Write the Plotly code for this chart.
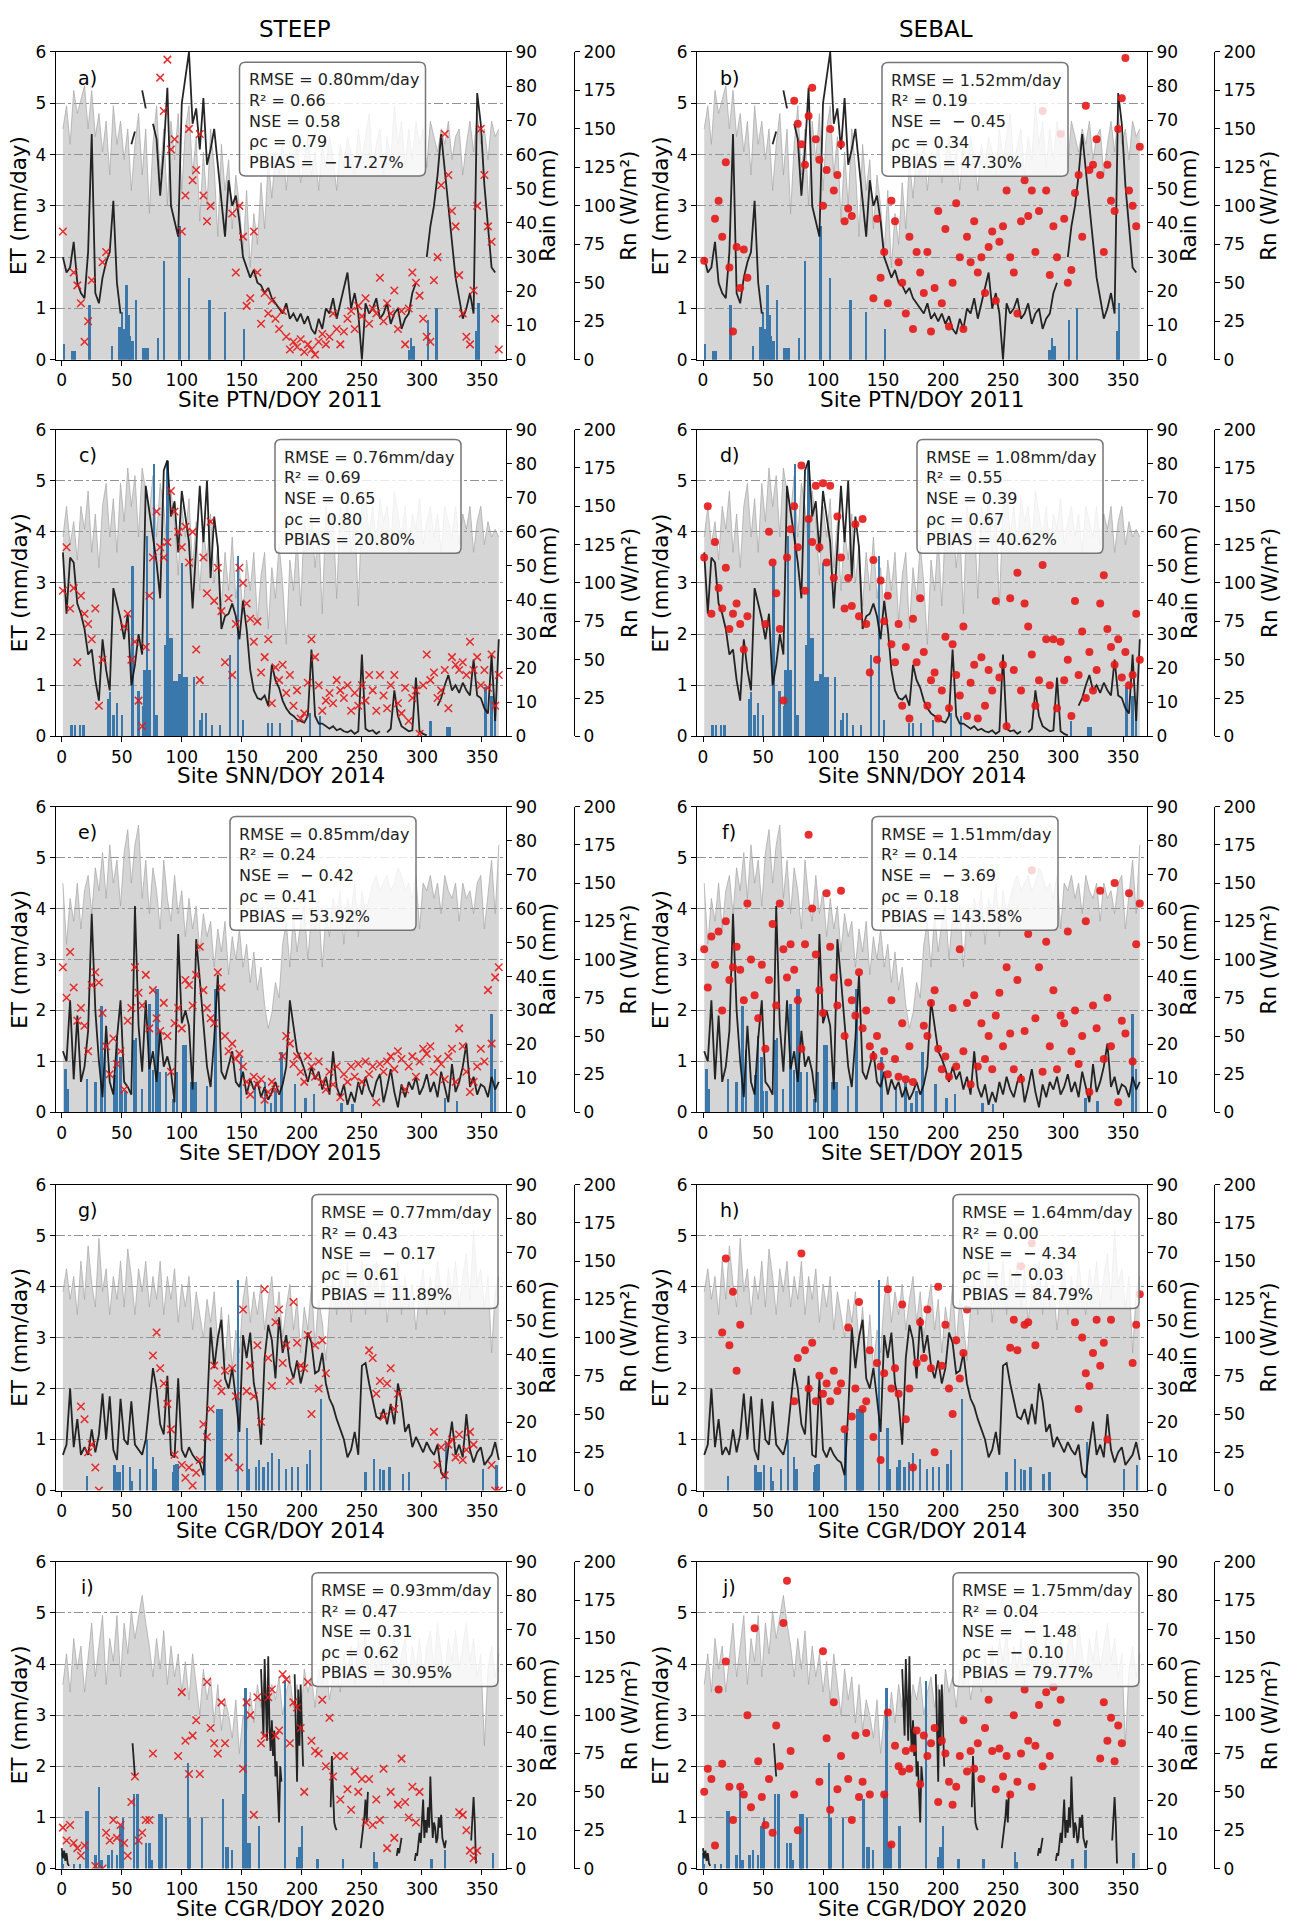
import plotly.graph_objects as go

W, H = 1290, 1931
DAYS = list(range(1, 365, 3))  # sampled day of year, 122 values
N = None

# ---------------- Site PTN / 2011 ----------------
PTN_ET = [
 2.0, 1.7, 1.8, 2.3, 1.5, 1.3, 1.2, 2.1, 4.4, 1.3,
 1.1, 1.6, 1.9, 2.1, 3.1, 1.5, 0.9, N, N, 4.2,
 4.45, N, 5.25, 4.9, N, 4.6, 4.3, 3.2, 4.1, 5.3,
 3.0, 2.7, 2.4, 5.0, 5.5, 6.0, 4.6, 4.9, 4.1, 5.1,
 3.8, 4.1, 4.5, 3.8, 3.0, 2.4, 3.5, 3.0, 3.2, 2.7,
 2.0, 1.8, 1.6, 1.75, 1.5, 1.45, 1.3, 1.4, 1.2, 1.1,
 1.0, 0.9, 1.1, 0.8, 0.9, 0.75, 0.9, 0.7, 0.85, 0.6,
 0.5, 0.8, 0.6, 1.0, 0.9, 1.2, 0.8, 1.1, 1.4, 1.7,
 1.0, 1.3, 0.9, 0.0, 1.1, 0.9, 1.0, 1.2, 0.8, 0.9,
 1.1, 0.7, 0.9, 1.0, 0.6, 0.8, 0.9, 1.3, 1.5, N,
 N, 2.0, 2.6, 3.0, 3.6, 4.4, 3.7, 2.9, 2.3, 1.6,
 1.2, 0.8, 1.0, 1.3, 0.9, 5.2, 4.6, 3.4, 2.6, 1.8,
 1.7, N]
PTN_RN = [
 150, 165, 140, 175, 160, 170, 178, 150, 175, 145,
 160, 135, 155, 120, 165, 140, 155, 130, 150, 110,
 140, 160, 120, 150, 95, 140, 165, 120, 150, 100,
 155, 130, 160, 110, 150, 165, 120, 145, 90, 135,
 100, 150, 125, 80, 140, 110, 130, 85, 120, 100,
 70, 110, 60, 95, 75, 115, 85, 130, 105, 135,
 120, 140, 110, 135, 125, 140, 115, 130, 145, 120,
 135, 110, 140, 125, 145, 130, 110, 140, 125, 145,
 135, 120, 150, 130, 145, 160, 125, 140, 150, 120,
 145, 130, 165, 140, 155, 125, 150, 130, 155, 140,
 150, 125, 155, 145, 135, 150, 140, 155, 130, 145,
 150, 120, 140, 155, 135, 160, 140, 150, 130, 155,
 145, 150]
PTN_RAIN_DAY = [2, 9, 11, 23, 42, 48, 50, 52, 54, 56, 57, 59, 62, 68, 70, 72, 80, 85, 98, 106,
                123, 136, 152, 289, 291, 293, 305, 312, 345, 347]
PTN_RAIN_MM = [4.5, 2.5, 2.5, 16, 4, 9.5, 14, 9, 22, 13, 7, 5.5, 17.5, 3.5, 3.5, 3.5, 6.5, 29, 39, 24,
               17.5, 14, 9, 3, 6.5, 4, 11.5, 15, 8.5, 16.5]
PTN_STEEP = [
 2.5, N, N, 1.7, 1.45, 1.1, 0.35, 0.75, 1.55, N,
 N, 1.9, 2.1, N, N, N, N, N, N, N,
 N, N, N, N, N, N, N, 5.5, 4.85, 5.85,
 4.1, 4.3, N, 2.5, 3.2, 4.5, 3.5, 3.7, 4.4, 3.2,
 2.7, 3.0, N, N, N, N, N, 2.85, 1.7, 3.0,
 2.4, 1.05, 1.2, 2.5, 1.7, 0.7, 1.3, 0.9, 1.15, 0.8,
 0.6, 0.95, 0.45, 0.2, 0.35, 0.25, 0.4, 0.15, 0.3, 0.2,
 0.1, 0.35, 0.5, 0.3, 0.45, 0.9, 0.6, 0.3, 0.55, 0.8,
 0.95, 0.6, 1.05, 0.85, 1.2, 0.7, 1.0, 0.9, 1.6, 0.75,
 1.1, 0.9, 1.35, 0.6, 0.95, 0.3, 1.0, 1.7, 1.5, 1.25,
 0.8, 0.45, 0.35, 1.55, 2.0, 3.4, 4.4, 3.6, 2.9, 2.6,
 1.65, 0.9, 0.45, 0.3, 1.35, 3.0, 4.5, 3.6, 2.6, 2.3,
 0.8, 0.2]
PTN_SEBAL = [
 1.93, N, N, 2.75, 3.1, 2.4, 3.85, 1.8, 0.55, 2.2,
 1.4, 2.15, 1.6, N, N, N, N, N, N, N,
 N, N, N, N, N, 5.05, 4.6, 4.2, 3.8, 4.75,
 5.3, 4.3, 3.9, 3.0, 3.7, 4.5, 3.3, 3.6, 4.2, 2.7,
 2.95, 2.8, N, N, N, N, N, 1.2, 2.75, 1.6,
 2.1, 1.1, 3.1, 2.7, 1.9, 1.5, 0.9, 2.4, 0.6, 2.1,
 1.7, 1.3, 2.1, 0.55, 1.4, 2.9, 1.1, 2.55, 0.65, 1.5,
 3.05, 2.0, 0.6, 2.4, 1.9, 2.7, 1.7, 2.0, 1.3, 2.2,
 2.5, 1.15, 2.3, 2.6, 3.3, 2.0, 1.7, 0.9, 2.7, 3.5,
 2.8, 3.3, 2.1, 2.9, 4.85, 3.3, 1.65, 2.6, 2.0, 4.4,
 2.75, 1.5, 1.75, 3.25, 3.6, 2.4, 4.95, 3.7, 3.8, 4.3,
 3.6, 2.1, 3.8, 3.1, 2.9, 4.5, 5.1, 5.88, 3.3, 3.0,
 2.6, 4.15]

# ---------------- Site SNN / 2014 ----------------
SNN_ET = [
 3.6, 2.4, 3.5, 3.4, 2.6, 2.4, 2.1, 1.6, 1.7, 1.1,
 0.7, 1.9, 1.3, 0.9, 2.9, 2.6, 2.3, 1.9, 2.4, 1.0,
 1.4, 2.0, 1.6, 4.9, 4.4, 3.8, 3.4, 2.7, 5.2, 5.4,
 4.3, 4.6, 3.6, 4.8, 4.3, 3.8, 2.5, 3.7, 4.9, 3.8,
 5.0, 3.1, 4.3, 3.7, 2.1, 2.35, 2.4, 2.6, 2.35, 1.9,
 2.65, 2.1, 1.3, 0.9, 0.75, 0.72, 0.8, 0.6, 1.4, 1.1,
 0.95, 0.7, 0.55, 0.45, 0.4, 0.33, 0.3, 0.27, 0.4, 1.7,
 0.4, 0.25, 0.25, 0.2, 0.15, 0.2, 0.12, 0.15, 0.1, 0.08,
 0.12, 0.05, 0.1, 1.6, 0.15, 0.1, 0.12, 0.05, 0.1, N,
 0.08, 0.15, 0.9, 0.4, 0.2, 0.15, 0.1, 0.12, 1.15, 0.1,
 0.05, 0.02, N, N, 0.6, 0.75, 1.0, 1.2, 0.9, 1.0,
 0.85, 1.05, 0.9, 0.8, 1.5, 0.8, 0.75, 0.55, 0.45, 1.6,
 0.3, 1.9]
SNN_RN = [
 130, 150, 125, 140, 115, 150, 135, 160, 120, 145,
 110, 150, 165, 130, 155, 120, 165, 140, 175, 150,
 170, 130, 175, 160, 145, 170, 130, 165, 150, 120,
 160, 140, 105, 150, 130, 155, 110, 140, 95, 135,
 115, 145, 100, 125, 85, 120, 95, 130, 90, 110,
 80, 115, 95, 120, 75, 105, 120, 70, 110, 90,
 125, 100, 60, 115, 95, 130, 85, 140, 125, 145,
 110, 135, 80, 150, 130, 145, 90, 150, 135, 155,
 120, 145, 85, 150, 160, 130, 150, 125, 155, 140,
 150, 125, 160, 145, 130, 150, 120, 145, 135, 155,
 125, 140, 150, 130, 145, 120, 150, 140, 130, 150,
 125, 145, 135, 150, 120, 140, 150, 125, 140, 130,
 135, 130]
SNN_RAIN_DAY = [8, 11, 15, 18, 39, 40, 43, 46, 50, 59, 64, 68, 69, 71, 73, 77, 79, 86, 88, 90, 91, 92,
                93, 94, 95, 96, 97, 98, 99, 100, 102, 103, 104, 110, 115, 117, 120, 125, 132, 140,
                147, 151, 172, 175, 182, 192, 207, 215, 307, 321, 323, 353, 358, 361]
SNN_RAIN_MM = [3.5, 3.5, 3.5, 3.5, 11, 13, 6.5, 10, 6.5, 50, 13.5, 9, 19.5, 59, 19.5, 80, 6.5, 27, 81,
               29, 29, 29, 16.5, 16.5, 9, 16.5, 16.5, 18.5, 18.5, 51, 17.5, 17.5, 17.5, 17.5, 5, 7, 7,
               3.5, 3.5, 24, 53, 5, 4, 4, 4, 5, 7, 6, 4.5, 3, 3, 14.5, 12, 7]
SNN_STEEP = [
 2.85, 3.7, 2.5, 2.9, 1.45, 2.75, 2.4, 2.2, 1.9, 2.5,
 0.6, 1.5, N, N, N, N, N, 2.15, 2.4, 1.5,
 1.85, 0.7, 0.2, 1.75, 2.75, 3.5, 4.4, 3.7, 3.5, 3.8,
 4.8, 4.4, 4.0, 3.7, 4.1, 3.4, 4.0, 1.7, 1.1, 3.5,
 2.8, 4.2, 2.65, 3.3, 2.45, 1.45, 2.7, 1.2, 2.2, 3.3,
 3.0, 2.6, 2.3, 1.85, 2.25, 1.25, 1.55, 1.9, 0.65, 1.35,
 1.1, 1.4, 0.85, 1.2, 0.6, 0.9, 0.35, 0.45, 1.05, 1.9,
 1.55, 1.0, 0.5, 0.7, 0.85, 0.65, 1.1, 0.9, 0.75, 1.0,
 0.5, 0.85, 0.6, 1.0, 0.7, 1.2, 0.9, 0.5, 1.2, 0.8,
 0.55, 1.0, 1.2, 0.65, 0.45, 0.95, 0.3, 0.75, 0.9, 0.05,
 1.0, 1.6, 1.1, 1.25, 0.75, 0.9, 1.3, 0.55, 1.55, 1.4,
 1.3, 1.45, 1.2, 1.85, 1.3, 1.55, 1.0, 1.3, 0.95, 1.6,
 0.6, 1.2]
SNN_SEBAL = [
 3.5, 4.5, 2.4, 3.8, 2.9, 2.5, 3.3, 2.1, 2.4, 2.6,
 2.2, 1.7, 2.35, N, N, N, N, 2.2, 4.0, 3.4,
 2.8, 2.1, 0.7, 3.5, 4.05, 4.5, 3.7, 5.3, 2.85, 4.25,
 3.8, 4.9, 3.7, 4.95, 3.4, 4.9, 3.1, 4.3, 3.5, 2.5,
 3.1, 2.55, 4.15, 2.35, 4.25, 2.2, 1.25, 3.45, 1.5, 3.05,
 2.25, 2.75, 1.8, 1.45, 2.2, 0.6, 1.75, 0.35, 2.3, 1.45,
 2.7, 1.65, 0.6, 1.1, 1.25, 0.35, 0.9, 1.95, 0.55, 1.8,
 1.2, 0.8, 2.15, 0.4, 1.05, 1.4, 0.35, 1.55, 0.6, 1.3,
 0.9, 2.65, 1.15, 1.4, 0.2, 2.7, 1.3, 3.2, 0.9, 2.6,
 2.15, 1.6, 0.6, 1.1, 3.35, 1.9, 1.0, 1.9, 0.55, 1.85,
 1.1, 1.5, 0.4, 2.65, 1.2, 2.05, 0.75, 1.65, 0.9, 1.3,
 2.6, 3.15, 2.1, 1.75, 1.4, 1.9, 1.15, 1.65, 1.0, 1.2,
 2.4, 1.5]

# ---------------- Site SET / 2015 ----------------
SET_ET = [
 1.2, 1.0, 2.2, 0.65, 1.9, 0.6, 0.9, 1.6, 3.9, 2.0,
 1.0, 0.3, 1.7, 0.6, 0.35, 1.45, 2.2, 0.6, 0.5, 0.35,
 4.05, 1.7, 0.8, 2.2, 0.85, 1.2, 0.6, 1.6, 0.9, 1.1,
 0.8, 0.2, 3.5, 1.75, 2.0, 1.7, 0.45, 3.4, 2.6, 1.8,
 0.9, 0.5, 1.45, 2.7, 0.8, 0.65, 0.9, 1.2, 0.6, 0.5,
 0.8, 0.35, 0.65, 0.45, 0.6, 0.3, 0.5, 0.25, 0.4, 0.6,
 0.35, 0.55, 0.9, 2.2, 1.7, 1.2, 1.05, 0.85, 0.6, 0.9,
 0.65, 0.8, 0.45, 0.7, 0.35, 1.2, 0.5, 0.3, 0.55, 0.15,
 0.4, 0.2, 0.6, 0.35, 0.7, 0.45, 0.3, 0.6, 0.75, 0.2,
 0.5, 0.85, 0.4, 0.1, 0.55, 0.3, 0.6, 0.45, 0.7, 0.35,
 0.5, 0.75, 0.4, 0.6, 0.3, 0.8, 0.5, 0.2, 0.95, 0.4,
 0.6, 0.9, 1.35, 0.5, 0.7, 0.35, 0.55, 0.5, 0.3, 0.7,
 0.45, 0.6]
SET_RN = [
 150, 110, 140, 125, 150, 120, 145, 155, 130, 160,
 145, 170, 140, 175, 150, 165, 135, 170, 185, 150,
 175, 188, 140, 165, 130, 160, 145, 120, 165, 140,
 125, 155, 130, 145, 115, 140, 120, 135, 105, 130,
 115, 125, 95, 120, 105, 125, 90, 115, 100, 120,
 95, 110, 85, 105, 80, 95, 70, 55, 65, 85,
 75, 110, 125, 95, 130, 105, 125, 135, 100, 130,
 120, 135, 95, 130, 115, 140, 130, 145, 110, 140,
 130, 150, 115, 145, 130, 140, 150, 155, 145, 150,
 155, 145, 150, 160, 155, 145, 150, 140, 155, 120,
 150, 145, 155, 140, 150, 130, 155, 145, 140, 150,
 125, 150, 140, 145, 130, 150, 155, 120, 145, 165,
 130, 175]
SET_RAIN_DAY = [3, 5, 21, 28, 33, 36, 44, 46, 49, 50, 53, 60, 62, 67, 73, 76, 79, 80, 82, 87, 93, 96,
                101, 102, 103, 108, 110, 112, 121, 128, 149, 161, 169, 174, 178, 183, 194, 203, 210,
                233, 242, 319, 329, 358, 361]
SET_RAIN_MM = [13, 7, 10, 9, 31.5, 18.5, 11, 22.5, 16.5, 6.5, 6.5, 21.5, 22, 7, 32, 12.5, 36.5, 36.5,
               12, 12, 4, 12, 20, 20, 20, 9, 9, 9, 8, 36.5, 16.5, 7.5, 9, 3, 6.5, 18, 8.5, 4.5, 5.5,
               3, 2.5, 4.5, 3.5, 29, 13]
SET_STEEP = [
 2.85, 2.25, 3.15, 2.45, 1.8, 2.05, 1.7, 1.2, 2.5, 2.75,
 2.55, 1.95, 1.3, 0.75, 1.45, 0.95, 1.2, 0.45, 1.8, 2.05,
 2.85, 2.35, 2.1, 2.7, 1.65, 2.4, 1.85, 1.6, 2.15, 1.5,
 0.8, 1.75, 2.05, 1.65, 2.6, 2.5, 2.1, 2.7, 3.25, 2.4,
 2.05, 1.85, 1.75, 2.75, 2.45, 1.5, 1.2, 1.35, 1.05, 1.15,
 0.9, 0.6, 0.35, 0.7, 0.55, 0.65, 0.25, 0.4, 0.6, 0.45,
 N, 1.1, 1.5, 1.35, 0.95, 1.1, 0.8, 0.6, 1.1, 0.9,
 0.7, 1.0, 0.6, 0.45, 0.8, 0.55, 0.9, 0.3, 0.75, 0.6,
 0.9, 0.7, 0.95, 0.6, 1.0, 0.75, 0.9, 0.2, 0.95, 0.8,
 1.0, 1.1, 0.85, 1.2, 1.05, 0.45, 0.9, 1.1, 0.7, 1.0,
 1.25, 1.15, 1.3, 0.8, 1.05, 0.95, 0.65, 1.1, 1.25, 0.6,
 1.65, 1.3, 0.8, 0.4, 0.6, 0.9, 1.25, 1.0, 2.4, 1.35,
 2.65, 2.85]
SET_SEBAL = [
 3.2, 2.45, 3.45, 2.9, 3.55, 2.0, 3.75, 2.6, 2.85, 3.25,
 2.8, 2.2, 4.1, 3.0, 2.3, 1.85, 2.9, 1.25, 2.6, 3.7,
 2.1, 4.1, 3.2, 2.65, 3.3, 2.8, 2.2, 1.25, 3.3, 5.45,
 4.0, 3.1, 2.4, 1.95, 4.3, 3.25, 2.65, 2.1, 4.35, 1.5,
 2.55, 2.2, 1.9, 2.75, 1.65, 2.0, 1.3, 1.1, 1.5, 0.9,
 1.2, 0.75, 2.2, 1.05, 0.7, 1.75, 0.65, 1.3, 0.6, N,
 N, 1.7, 1.5, 2.15, 2.4, 1.25, 0.85, 1.1, 0.7, 2.05,
 0.9, 3.2, 1.2, 2.15, 0.55, 2.3, 0.9, 1.75, 1.05, 1.5,
 0.85, 1.9, 2.35, 1.3, 2.85, 1.55, 0.85, 2.6, 0.65, 1.6,
 3.5, 4.75, 1.85, 2.85, 0.8, 3.35, 1.3, 2.4, 0.85, 1.9,
 1.75, 3.55, 1.2, 2.0, 0.95, 1.5, 3.75, 0.4, 2.1, 1.65,
 4.35, 1.05, 2.25, 1.3, 4.5, 0.2, 1.8, 1.55, 4.3, 1.0,
 3.3, 4.1]

# ---------------- Site CGR / 2014 ----------------
CGR14_ET = [
 0.7, 0.9, 2.0, 0.85, 1.4, 0.7, 0.85, 0.7, 1.2, 0.75,
 1.1, 1.9, 1.0, 1.85, 0.8, 0.6, 1.8, 1.0, 0.9, 1.75,
 0.9, 0.8, 0.7, 1.0, 1.65, 2.4, 2.0, 1.3, 1.1, 2.25,
 0.7, 0.65, 2.2, 0.8, 0.65, 0.85, 0.7, 0.6, 0.55, 0.3,
 1.55, 3.2, 2.4, 3.0, 3.35, 2.2, 2.0, 2.4, 1.8, 1.15,
 3.05, 2.6, 3.1, 2.1, 1.75, 0.9, 2.6, 3.25, 2.95, 2.2,
 3.4, 2.7, 3.05, 2.45, 2.2, 2.55, 2.1, 2.4, 3.1, 2.9,
 2.3, 2.35, 2.7, 2.1, 1.8, 1.65, 1.4, 1.2, 1.0, 0.65,
 0.8, 1.15, 0.7, 2.45, 2.5, 2.1, 1.8, 1.45, 1.4, 1.6,
 1.3, 1.7, 1.3, 2.1, 1.75, 1.15, 1.3, 0.85, 1.05, 0.9,
 0.75, 0.95, 0.8, 0.7, 0.9, 0.35, 0.25, 0.85, 1.35, 0.7,
 0.9, 0.65, 1.5, 0.8, 0.55, 0.75, 0.85, 0.5, 0.6, 0.7,
 0.95, 0.6]
CGR14_RN = [
 130, 145, 125, 140, 115, 150, 125, 160, 135, 120,
 165, 130, 145, 115, 140, 125, 150, 120, 158, 140,
 115, 145, 130, 150, 120, 140, 125, 150, 115, 140,
 125, 145, 110, 135, 120, 140, 105, 130, 115, 100,
 125, 110, 130, 95, 120, 85, 115, 80, 105, 90,
 125, 140, 110, 130, 115, 135, 105, 125, 140, 110,
 130, 100, 120, 135, 105, 125, 90, 120, 105, 135,
 95, 125, 110, 85, 120, 140, 115, 145, 125, 150,
 110, 140, 125, 150, 115, 145, 130, 150, 120, 145,
 110, 135, 125, 150, 115, 140, 120, 135, 105, 130,
 145, 115, 140, 125, 150, 130, 115, 145, 130, 150,
 120, 140, 155, 125, 170, 135, 145, 120, 140, 90,
 130, 140]
CGR14_RAIN_DAY = [21, 44, 46, 48, 51, 57, 58, 65, 71, 76, 78, 93, 94, 95, 96, 97, 119, 129, 130, 131,
                  132, 133, 147, 154, 156, 162, 164, 168, 172, 175, 181, 187, 192, 197, 204, 207, 216,
                  253, 260, 265, 268, 273, 284, 289, 320, 351, 362]
CGR14_RAIN_MM = [4.5, 7.5, 5.5, 5.5, 7.5, 7, 3, 6.5, 15, 10, 6.5, 5.5, 7.5, 8, 8, 8, 18, 24, 24, 24,
                 24, 24, 62, 18.5, 6.5, 7, 9, 7, 8.5, 11, 9.5, 6.5, 7, 7, 8, 12, 27, 5.5, 9.5, 6.5,
                 6, 7, 5, 5.5, 14.5, 6.5, 7.5]
CGR14_STEEP = [
 N, N, N, N, N, 1.65, 1.4, 0.75, 0.9, 0.45,
 0.0, N, N, N, N, N, N, N, N, N,
 N, N, N, N, N, 2.65, 3.1, 2.4, 2.1, 1.7,
 1.2, 0.7, N, 0.5, 0.25, 0.45, 0.1, 0.35, 0.6, 1.3,
 1.05, 1.6, 2.45, 2.1, 1.95, 2.35, 0.65, 2.4, 1.85, 0.45,
 3.55, 1.95, 2.45, 1.85, 2.85, 1.35, 3.95, 2.6, 2.05, 3.3,
 3.55, 2.5, 2.85, 2.15, 3.7, 2.9, 2.45, 2.4, 3.05, 1.5,
 2.85, 2.0, 2.95, 2.3, N, N, N, N, N, N,
 N, N, N, N, N, 2.75, 2.6, 1.9, 2.15, 1.45,
 2.1, 2.4, 1.6, 1.9, N, N, N, N, N, N,
 N, N, N, 1.15, 0.5, 0.85, 0.3, 0.9, 1.0, 0.65,
 1.1, 0.6, 0.8, 1.15, 0.9, N, N, N, N, 0.5,
 0.0, 0.0]
CGR14_SEBAL = [
 N, N, N, N, N, 3.1, 4.55, 2.85, 3.9, 2.35,
 3.25, N, N, N, N, N, N, N, N, N,
 N, N, N, N, N, 1.75, 2.6, 4.65, 2.75, 2.0,
 2.9, 1.75, 2.25, 1.9, 2.1, 1.75, 2.35, 1.95, 2.1, 1.2,
 3.2, 1.45, 2.0, 3.7, 1.6, 1.75, 2.75, 1.05, 2.5, 0.6,
 2.3, 3.95, 2.0, 2.4, 1.9, 3.65, 1.4, 2.0, 0.45, 2.5,
 3.3, 2.6, 3.55, 2.4, 0.75, 4.0, 2.45, 3.25, 2.0, 1.5,
 2.95, 2.2, 2.7, 3.55, N, N, N, N, N, N,
 N, N, N, N, N, 2.8, 3.35, 2.75, 4.4, 3.25,
 3.3, 4.85, 2.85, N, N, N, N, N, N, N,
 N, N, N, 3.3, 1.6, 3.0, 2.3, 2.05, 2.7, 3.35,
 2.45, 2.9, 1.0, 3.35, N, N, N, N, N, 2.5,
 3.25, 3.85]

# ---------------- Site CGR / 2020 ----------------
CGR20_ET_DAY = [0, 1, 2, 3, 4, 5, 6, 7,
                59, 60, 61, 62, 63,
                166, 167, 168, 169, 170, 171, 172, 173, 174, 175, 176, 177, 178, 179, 180, 181, 182,
                183, 184, 185,
                194, 195, 196, 197, 198, 199, 200, 201, 202, 203,
                224, 225, 226, 227, 228, 229, 230, 231,
                249, 250, 251, 252, 253, 254, 255, 256, 257,
                279, 280, 281, 282, 283, 284, 285,
                294, 295, 296, 297, 298, 299, 300, 301, 302, 303, 304, 305, 306, 307, 308, 309, 310,
                311, 312, 313, 314, 315, 316, 317, 318, 319, 320, 321,
                341, 342, 343, 344, 345, 346]
CGR20_ET = [0.4, 0.2, 0.35, 0.15, 0.3, 0.1, 0.05, N,
            2.45, 2.1, 1.8, N, N,
            3.9, 3.0, 2.6, 4.1, 3.2, 2.5, 4.15, 2.8, 2.3, 2.9, 2.2, 2.7, 1.8, 2.1, 1.5, 0.9, 2.0,
            1.7, N, N,
            3.8, 2.5, 1.7, 3.5, 2.4, 3.6, 2.8, 2.0, N, N,
            1.2, 2.2, 1.5, 0.9, 0.8, 0.75, N, N,
            0.4, 0.6, 0.7, 1.0, 1.35, 0.9, 1.5, N, N,
            0.25, 0.4, 0.3, 0.5, 0.6, N, N,
            0.15, 0.3, 0.25, 0.45, 0.7, 0.5, 0.9, 1.35, 0.6, 0.95, 0.7, 1.2, 0.8, 1.8, 1.1, 0.6, 0.9,
            0.8, 0.5, 0.6, 1.0, 0.8, 1.05, 0.6, 0.5, 0.4, 0.55, N,
            0.55, 1.0, 1.4, 0.9, 0.1, N]
CGR20_RN = [
 120, 140, 115, 150, 130, 145, 115, 140, 160, 125,
 145, 165, 120, 150, 135, 165, 125, 160, 140, 168,
 150, 165, 178, 160, 145, 125, 150, 130, 155, 120,
 145, 125, 140, 115, 135, 110, 140, 120, 100, 130,
 110, 125, 95, 120, 90, 110, 100, 85, 110, 75,
 100, 90, 115, 95, 120, 105, 125, 100, 120, 110,
 125, 100, 115, 125, 105, 120, 95, 130, 115, 125,
 105, 130, 120, 135, 110, 125, 130, 115, 140, 125,
 145, 120, 150, 135, 155, 125, 145, 130, 150, 120,
 145, 135, 155, 125, 140, 150, 120, 145, 130, 150,
 125, 145, 155, 130, 160, 140, 125, 150, 135, 155,
 130, 145, 160, 135, 150, 125, 140, 80, 130, 145,
 125, 140]
CGR20_RAIN_DAY = [0, 1, 10, 15, 20, 22, 28, 31, 33, 39, 42, 46, 49, 51, 60, 63, 70, 73, 75, 81, 82, 83,
                  87, 105, 106, 107, 117, 134, 137, 138, 142, 151, 153, 155, 157, 164, 186, 196, 198,
                  200, 213, 234, 260, 262, 308, 319, 359]
CGR20_RAIN_MM = [4.5, 1.5, 1.5, 1.5, 17, 17, 4, 24, 2.5, 4, 5.5, 4, 12.5, 15, 22, 22, 7.5, 7.5, 2.5,
                 16, 16, 16, 15, 31, 15, 15, 15, 20.5, 6.5, 6.5, 5.5, 22, 53, 7.5, 7.5, 12.5, 55, 3.5,
                 6.5, 12.5, 3, 3, 5, 2, 3, 5.5, 4.5]
CGR20_STEEP = [
 0.8, 0.55, 0.85, 0.5, 0.4, 0.25, 0.45, N, N, 0.05,
 N, 0.0, 0.7, 0.55, 0.95, 0.6, 0.85, 0.5, 0.25, 1.3,
 1.8, 0.55, 0.7, 0.95, 0.95, 2.25, N, N, N, N,
 N, N, 2.2, 3.45, 2.5, 1.85, 2.6, 2.9, 1.85, N,
 3.65, 2.75, 2.45, 2.25, 3.25, 2.45, N, N, N, N,
 1.95, 3.25, 3.0, 1.05, 3.35, 2.45, 2.6, 3.35, 3.5, 2.6,
 2.7, 3.8, 3.7, 2.45, 3.25, 3.15, 2.75, 1.5, 3.65, 2.5,
 2.3, 2.25, 3.3, 2.0, 2.95, 1.8, 2.2, 1.35, 2.2, 1.55,
 1.15, 1.9, 1.5, 1.75, 0.9, 1.75, 0.85, 1.35, 0.95, 1.95,
 0.4, 1.5, 0.6, 1.25, 2.15, 1.3, 1.0, 1.6, 0.9, 1.5,
 N, N, N, N, N, N, N, N, N, N,
 1.1, 1.05, 0.75, 0.35, 0.2, 0.35, N, N, N, N,
 N, N]
CGR20_SEBAL = [
 1.5, 1.95, 1.75, 0.45, 3.5, 2.05, 4.05, 1.6, 0.95, N,
 1.6, 1.45, 3.0, 1.2, 4.7, 2.1, 1.4, 0.85, 1.75, 0.7,
 2.8, 2.0, 4.8, 5.63, 2.3, 1.45, 0.75, N, N, N,
 N, N, 1.7, 4.25, 2.55, 1.15, 3.25, 1.55, 2.2, N,
 1.75, 0.95, 2.6, 1.4, 1.7, 2.65, 1.45, N, N, N,
 1.45, 3.05, 0.47, 2.4, 2.0, 1.9, 2.3, 1.95, 2.35, 2.7,
 1.65, 2.6, 2.2, 2.45, 2.75, 1.3, 2.5, 2.25, 1.7, 1.25,
 1.6, 2.2, 2.9, 1.9, 2.3, 1.95, 2.45, 1.75, 2.75, 3.3,
 2.3, 1.55, 2.35, 1.8, 2.2, 1.45, 3.0, 1.7, 2.25, 3.5,
 2.5, 1.6, 2.4, 3.2, 2.0, 3.45, 2.2, 3.55, 2.85, 3.3,
 N, N, N, N, N, N, N, N, N, N,
 2.15, 3.25, 2.5, 2.95, 2.1, 2.8, 2.45, N, N, N,
 N, N]

SITE_LABELS = ["Site PTN/DOY 2011", "Site SNN/DOY 2014", "Site SET/DOY 2015",
               "Site CGR/DOY 2014", "Site CGR/DOY 2020"]
COLUMN_TITLES = ["STEEP", "SEBAL"]
PANEL_LETTERS = ["a)", "b)", "c)", "d)", "e)", "f)", "g)", "h)", "i)", "j)"]
STATS = [
    ["0.80", "0.66", "0.58", "0.79", "\u2212 17.27%"],
    ["1.52", "0.19", "\u2212 0.45", "0.34", "47.30%"],
    ["0.76", "0.69", "0.65", "0.80", "20.80%"],
    ["1.08", "0.55", "0.39", "0.67", "40.62%"],
    ["0.85", "0.24", "\u2212 0.42", "0.41", "53.92%"],
    ["1.51", "0.14", "\u2212 3.69", "0.18", "143.58%"],
    ["0.77", "0.43", "\u2212 0.17", "0.61", "11.89%"],
    ["1.64", "0.00", "\u2212 4.34", "\u2212 0.03", "84.79%"],
    ["0.93", "0.47", "0.31", "0.62", "30.95%"],
    ["1.75", "0.04", "\u2212 1.48", "\u2212 0.10", "79.77%"],
]

SITES = [
    dict(et_x=DAYS, et=PTN_ET, rn=PTN_RN, rd=PTN_RAIN_DAY, rv=PTN_RAIN_MM, models=[PTN_STEEP, PTN_SEBAL]),
    dict(et_x=DAYS, et=SNN_ET, rn=SNN_RN, rd=SNN_RAIN_DAY, rv=SNN_RAIN_MM, models=[SNN_STEEP, SNN_SEBAL]),
    dict(et_x=DAYS, et=SET_ET, rn=SET_RN, rd=SET_RAIN_DAY, rv=SET_RAIN_MM, models=[SET_STEEP, SET_SEBAL]),
    dict(et_x=DAYS, et=CGR14_ET, rn=CGR14_RN, rd=CGR14_RAIN_DAY, rv=CGR14_RAIN_MM,
         models=[CGR14_STEEP, CGR14_SEBAL]),
    dict(et_x=CGR20_ET_DAY, et=CGR20_ET, rn=CGR20_RN, rd=CGR20_RAIN_DAY, rv=CGR20_RAIN_MM,
         models=[CGR20_STEEP, CGR20_SEBAL]),
]

# ---------------- layout geometry (pixels) ----------------
COL_X = [(55.7, 506.0), (697.0, 1147.0)]
RN_SPINE = [574.0, 1214.0]
ROW_Y = [(42.4, 353.4), (424.0, 734.0), (805.0, 1114.0), (1187.0, 1496.0), (1568.0, 1878.0)]
BOXES = [(239.5, 52.7), (882, 53), (275, 434), (917, 434), (230, 815), (872, 815),
         (312, 1197), (953, 1197), (312, 1579), (953, 1579)]
BOX_W, BOX_H = 186, 115
TITLE_X = [295, 936]
FONT = "DejaVu Sans"
BLUE = "#3a77ab"
RED = "rgba(228,24,24,0.9)"


def fx(px):
    return px / W


def fy(py):
    return 1 - py / H


def aid(letter, n):
    return letter if n == 1 else f"{letter}{n}"


def akey(letter, n):
    return f"{letter}axis" if n == 1 else f"{letter}axis{n}"


def ann(text, xpx, ypx, size, xanchor="center", yanchor="middle", angle=0, color="black"):
    return dict(text=text, x=fx(xpx), y=fy(ypx), xref="paper", yref="paper", showarrow=False,
                xanchor=xanchor, yanchor=yanchor, textangle=angle,
                font=dict(size=size, color=color, family=FONT))


def rounded_box(x0, y0, w, h, r=6):
    x1, y1 = x0 + w, y0 + h
    P = lambda a, b: f"{fx(a):.6f},{fy(b):.6f}"
    return (f"M {P(x0 + r, y0)} L {P(x1 - r, y0)} Q {P(x1, y0)} {P(x1, y0 + r)} "
            f"L {P(x1, y1 - r)} Q {P(x1, y1)} {P(x1 - r, y1)} L {P(x0 + r, y1)} "
            f"Q {P(x0, y1)} {P(x0, y1 - r)} L {P(x0, y0 + r)} Q {P(x0, y0)} {P(x0 + r, y0)} Z")


tick_common = dict(ticks="outside", ticklen=5, tickwidth=1, tickcolor="black",
                   showline=True, linecolor="black", linewidth=1, zeroline=False,
                   tickfont=dict(size=17, color="black", family=FONT))

fig = go.Figure()
layout_axes = {}
shapes = []
annotations = []

for row, site in enumerate(SITES):
    for col in range(2):
        p = row * 2 + col
        xn = p + 1
        yb, yr, ye = 3 * p + 1, 3 * p + 2, 3 * p + 3
        x0, x1 = COL_X[col]
        ytop, ybot = ROW_Y[row]
        xid = aid("x", xn)

        layout_axes[akey("x", xn)] = dict(
            domain=[fx(x0), fx(x1)], range=[-5, 370], anchor=aid("y", yb),
            tickvals=[0, 50, 100, 150, 200, 250, 300, 350], mirror=True, showgrid=False,
            **tick_common)
        layout_axes[akey("y", yb)] = dict(
            domain=[fy(ybot), fy(ytop)], range=[0, 200], anchor="free", position=fx(RN_SPINE[col]),
            side="right", tickvals=[0, 25, 50, 75, 100, 125, 150, 175, 200], showgrid=False,
            **tick_common)
        layout_axes[akey("y", yr)] = dict(
            overlaying=aid("y", yb), anchor=xid, side="right", range=[0, 90],
            tickvals=[0, 10, 20, 30, 40, 50, 60, 70, 80, 90], showgrid=False, **tick_common)
        layout_axes[akey("y", ye)] = dict(
            overlaying=aid("y", yb), anchor=xid, side="left", range=[0, 6],
            tickvals=[0, 1, 2, 3, 4, 5, 6], showgrid=True, gridcolor="rgba(110,110,110,0.75)",
            griddash="dashdot", gridwidth=1, **tick_common)

        # net radiation (grey area)
        fig.add_trace(go.Scatter(
            x=DAYS[:len(site["rn"])], y=site["rn"], mode="lines", fill="tozeroy",
            fillcolor="rgba(150,150,150,0.40)", line=dict(color="rgba(165,165,165,0.7)", width=1),
            xaxis=xid, yaxis=aid("y", yb), hoverinfo="skip"))
        # rain (bars)
        fig.add_trace(go.Bar(
            x=site["rd"], y=site["rv"], width=1.5, marker=dict(color=BLUE, line=dict(width=0)),
            xaxis=xid, yaxis=aid("y", yr), hoverinfo="skip"))
        # observed ET
        fig.add_trace(go.Scatter(
            x=site["et_x"][:len(site["et"])], y=site["et"], mode="lines", connectgaps=False,
            line=dict(color="rgba(20,20,20,0.92)", width=1.8),
            xaxis=xid, yaxis=aid("y", ye), hoverinfo="skip"))
        # modelled ET
        model = site["models"][col]
        if col == 0:
            mk = dict(symbol="x-thin", size=7.5, color=RED, line=dict(width=1.5, color=RED))
        else:
            mk = dict(symbol="circle", size=8, color=RED, line=dict(width=0))
        fig.add_trace(go.Scatter(
            x=DAYS[:len(model)], y=model, mode="markers", marker=mk,
            xaxis=xid, yaxis=aid("y", ye), hoverinfo="skip"))

        # texts around the panel
        mid_y = (ytop + ybot) / 2
        annotations.append(ann("ET (mm/day)", x0 - 36.5, mid_y, 21.5, angle=-90))
        annotations.append(ann("Rain (mm)", x1 + 42, mid_y, 21.5, angle=-90))
        annotations.append(ann("Rn (W/m\u00b2)", RN_SPINE[col] + 55, mid_y, 21.5, angle=-90))
        annotations.append(ann(SITE_LABELS[row], (x0 + x1) / 2, ybot + 40, 21.5))
        annotations.append(ann(PANEL_LETTERS[p], x0 + 32, ytop + 26, 19))

        # statistics box
        bx, by = BOXES[p]
        shapes.append(dict(type="path", path=rounded_box(bx, by, BOX_W, BOX_H), xref="paper",
                           yref="paper", fillcolor="rgba(255,255,255,0.8)",
                           line=dict(color="rgba(110,110,110,0.95)", width=1.5), layer="above"))
        s = STATS[p]
        lines = [f"RMSE = {s[0]}mm/day", f"R\u00b2 = {s[1]}",
                 ("NSE =\u00a0 " + s[2]) if s[2].startswith("\u2212") else f"NSE = {s[2]}",
                 ("\u03c1c =\u00a0 " + s[3]) if s[3].startswith("\u2212") else f"\u03c1c = {s[3]}",
                 ("PBIAS =\u00a0 " + s[4]) if s[4].startswith("\u2212") else f"PBIAS = {s[4]}"]
        for i, t in enumerate(lines):
            annotations.append(ann(t, bx + 7, by + 18 + 20.8 * i, 16, xanchor="left", color="#222222"))

for col in range(2):
    annotations.append(ann(COLUMN_TITLES[col], TITLE_X[col], 19, 23))

fig.update_layout(
    width=W, height=H, margin=dict(l=0, r=0, t=0, b=0), autosize=False,
    paper_bgcolor="white", plot_bgcolor="white", showlegend=False, bargap=0,
    font=dict(family=FONT, size=16, color="black"),
    shapes=shapes, annotations=annotations, **layout_axes)

fig.write_html("out.html", config={"displayModeBar": False},
               post_script="document.body.style.margin='0px';document.body.style.overflow='hidden';")
